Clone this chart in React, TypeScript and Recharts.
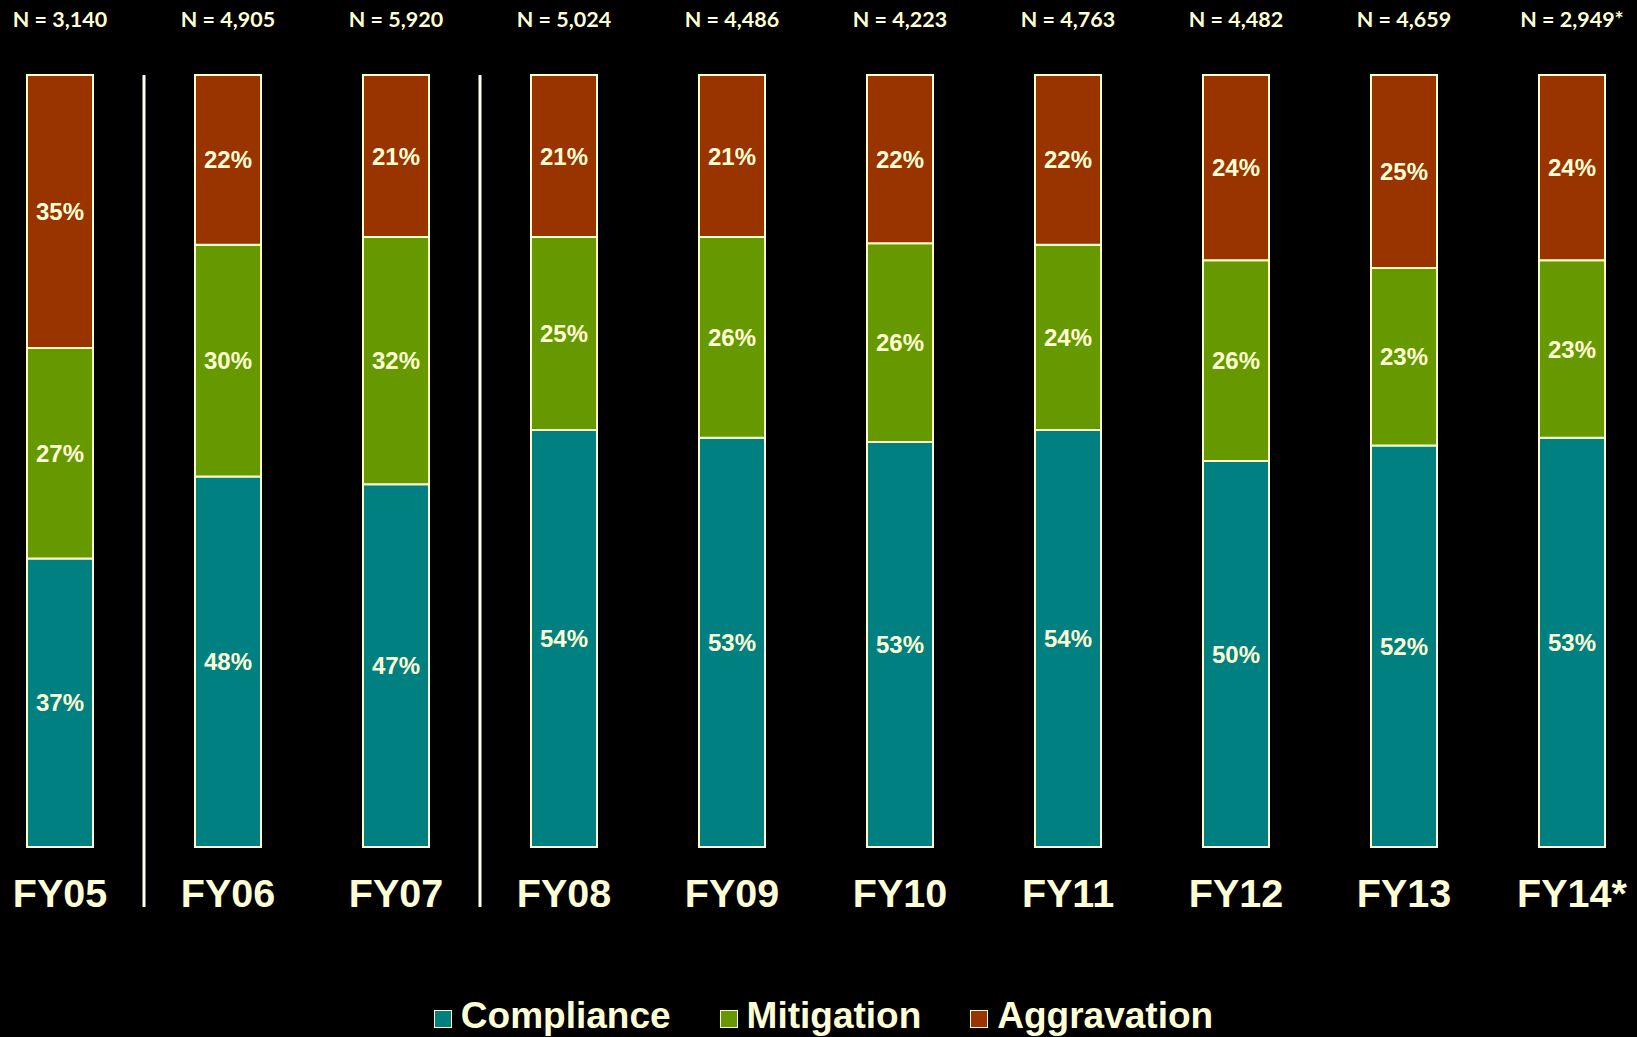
import React from 'react';
import { BarChart, Bar, XAxis, YAxis, LabelList, ReferenceLine, Legend } from 'recharts';

const categories = ['FY05', 'FY06', 'FY07', 'FY08', 'FY09', 'FY10', 'FY11', 'FY12', 'FY13', 'FY14*'];
const nLabels = ['3,140', '4,905', '5,920', '5,024', '4,486', '4,223', '4,763', '4,482', '4,659', '2,949*'];
const compliance = [37, 48, 47, 54, 53, 53, 54, 50, 52, 53];
const mitigation = [27, 30, 32, 25, 26, 26, 24, 26, 23, 23];
const aggravation = [35, 22, 21, 21, 21, 22, 22, 24, 25, 24];
const separatorsAfter = ['FY05', 'FY07'];

const data = categories.map((fy, i) => ({
  fy,
  n: nLabels[i],
  compliance: compliance[i],
  mitigation: mitigation[i],
  aggravation: aggravation[i],
}));

const CREAM = '#FFFFCC';
const TEXT = '#FFFFD6';
const COLORS = { compliance: '#008080', mitigation: '#669900', aggravation: '#993300' };
const legendItems = [
  { key: 'compliance', label: 'Compliance' },
  { key: 'mitigation', label: 'Mitigation' },
  { key: 'aggravation', label: 'Aggravation' },
];

const XTick = (props: any) => {
  const { x, y, payload } = props;
  return (
    <text x={x} y={y + 60} textAnchor="middle" fill={TEXT}
      style={{ fontFamily: '"Liberation Sans", Arial, sans-serif', fontWeight: 700, fontSize: 39.5 }}>
      {payload.value}
    </text>
  );
};

const NLabel = (props: any) => {
  const { x, y, width, value } = props;
  return (
    <text x={Number(x) + Number(width) / 2} y={Number(y) - 48.5} textAnchor="middle" fill={TEXT}
      style={{ fontFamily: 'Lato, "Open Sans", sans-serif', fontWeight: 700, fontSize: 21.5 }}>
      {`N = ${value}`}
    </text>
  );
};

const LegendContent = () => (
  <div style={{ display: 'flex', justifyContent: 'center', alignItems: 'center', height: 40, paddingLeft: 10 }}>
    {legendItems.map((it, i) => (
      <div key={it.key} style={{ display: 'flex', alignItems: 'center', marginLeft: i === 0 ? 0 : 49 }}>
        <div style={{ width: 16, height: 16, background: (COLORS as any)[it.key], border: `1.5px solid ${CREAM}`, marginRight: 9, marginTop: 6 }} />
        <span style={{ fontFamily: '"Liberation Sans", Arial, sans-serif', fontWeight: 700, fontSize: 37, color: TEXT, lineHeight: '40px' }}>
          {it.label}
        </span>
      </div>
    ))}
  </div>
);

const pctLabel = { fill: TEXT, fontFamily: '"Liberation Sans", Arial, sans-serif', fontWeight: 700, fontSize: 24 };

export default function App() {
  return (
    <div style={{ position: 'fixed', left: 0, top: 0, width: 1637, height: 1037, background: '#000', overflow: 'hidden' }}>
      <BarChart width={1637} height={1037} data={data} stackOffset="expand"
        margin={{ top: 75, left: -24, right: -19, bottom: 0 }} barSize={66}>
        <XAxis dataKey="fy" height={150} axisLine={false} tickLine={false} tickSize={0} tickMargin={0}
          tick={<XTick />} interval={0} />
        <YAxis hide domain={[0, 1]} />
        {separatorsAfter.map((c) => (
          <ReferenceLine key={c} segment={[{ x: c, y: 1 }, { x: c, y: -0.0777 }]} position="end"
            ifOverflow="visible" stroke="#FFFFF0" strokeWidth={3} />
        ))}
        <Bar dataKey="compliance" stackId="a" fill={COLORS.compliance} stroke={CREAM} strokeWidth={2} isAnimationActive={false}>
          <LabelList dataKey="compliance" position="center" formatter={(v: any) => `${v}%`} style={pctLabel} />
        </Bar>
        <Bar dataKey="mitigation" stackId="a" fill={COLORS.mitigation} stroke={CREAM} strokeWidth={2} isAnimationActive={false}>
          <LabelList dataKey="mitigation" position="center" formatter={(v: any) => `${v}%`} style={pctLabel} />
        </Bar>
        <Bar dataKey="aggravation" stackId="a" fill={COLORS.aggravation} stroke={CREAM} strokeWidth={2} isAnimationActive={false}>
          <LabelList dataKey="aggravation" position="center" formatter={(v: any) => `${v}%`} style={pctLabel} />
          <LabelList dataKey="n" content={<NLabel />} />
        </Bar>
        <Legend content={<LegendContent />} verticalAlign="bottom" align="center"
          wrapperStyle={{ top: 996, bottom: 'auto', left: 0, width: 1637, height: 40 }} />
      </BarChart>
    </div>
  );
}
